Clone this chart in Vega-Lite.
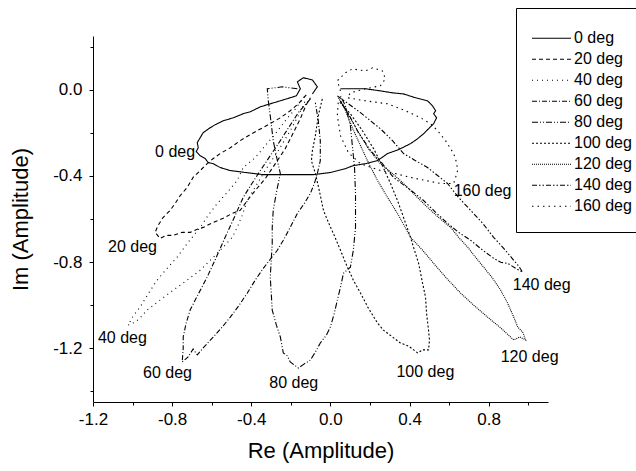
{
  "$schema": "https://vega.github.io/schema/vega-lite/v6.json",
  "autosize": "none",
  "width": 455,
  "height": 366,
  "padding": {"left": 93, "top": 36, "right": 88, "bottom": 69},
  "background": "white",
  "config": {
    "view": {"stroke": null},
    "font": "Liberation Sans",
    "axis": {"grid": false, "domainColor": "black", "tickColor": "black", "labelColor": "black", "titleColor": "black", "labelFont": "Liberation Sans", "titleFont": "Liberation Sans", "titleFontWeight": "normal", "labelFontSize": 17, "titleFontSize": 22, "domainWidth": 1, "tickWidth": 1}
  },
  "datasets": {
    "curves": [
      {"s":"0 deg","i":0,"x":-0.091,"y":-0.019},{"s":"0 deg","i":1,"x":-0.066,"y":0.014},{"s":"0 deg","i":2,"x":-0.091,"y":0.046},{"s":"0 deg","i":3,"x":-0.137,"y":0.056},{"s":"0 deg","i":4,"x":-0.167,"y":0.037},{"s":"0 deg","i":5,"x":-0.152,"y":0.005},{"s":"0 deg","i":6,"x":-0.172,"y":-0.028},{"s":"0 deg","i":7,"x":-0.253,"y":-0.051},{"s":"0 deg","i":8,"x":-0.304,"y":-0.065},{"s":"0 deg","i":9,"x":-0.354,"y":-0.079},{"s":"0 deg","i":10,"x":-0.405,"y":-0.102},{"s":"0 deg","i":11,"x":-0.441,"y":-0.111},{"s":"0 deg","i":12,"x":-0.491,"y":-0.130},{"s":"0 deg","i":13,"x":-0.542,"y":-0.144},{"s":"0 deg","i":14,"x":-0.582,"y":-0.162},{"s":"0 deg","i":15,"x":-0.608,"y":-0.176},{"s":"0 deg","i":16,"x":-0.643,"y":-0.199},{"s":"0 deg","i":17,"x":-0.658,"y":-0.222},{"s":"0 deg","i":18,"x":-0.673,"y":-0.245},{"s":"0 deg","i":19,"x":-0.668,"y":-0.269},{"s":"0 deg","i":20,"x":-0.678,"y":-0.287},{"s":"0 deg","i":21,"x":-0.658,"y":-0.306},{"s":"0 deg","i":22,"x":-0.633,"y":-0.319},{"s":"0 deg","i":23,"x":-0.618,"y":-0.338},{"s":"0 deg","i":24,"x":-0.592,"y":-0.343},{"s":"0 deg","i":25,"x":-0.557,"y":-0.361},{"s":"0 deg","i":26,"x":-0.506,"y":-0.375},{"s":"0 deg","i":27,"x":-0.430,"y":-0.384},{"s":"0 deg","i":28,"x":-0.339,"y":-0.394},{"s":"0 deg","i":29,"x":-0.253,"y":-0.394},{"s":"0 deg","i":30,"x":-0.177,"y":-0.394},{"s":"0 deg","i":31,"x":-0.086,"y":-0.394},{"s":"0 deg","i":32,"x":0.000,"y":-0.384},{"s":"0 deg","i":33,"x":0.076,"y":-0.366},{"s":"0 deg","i":34,"x":0.116,"y":-0.352},{"s":"0 deg","i":35,"x":0.177,"y":-0.343},{"s":"0 deg","i":36,"x":0.238,"y":-0.329},{"s":"0 deg","i":37,"x":0.289,"y":-0.296},{"s":"0 deg","i":38,"x":0.344,"y":-0.278},{"s":"0 deg","i":39,"x":0.405,"y":-0.250},{"s":"0 deg","i":40,"x":0.441,"y":-0.227},{"s":"0 deg","i":41,"x":0.471,"y":-0.204},{"s":"0 deg","i":42,"x":0.496,"y":-0.181},{"s":"0 deg","i":43,"x":0.522,"y":-0.157},{"s":"0 deg","i":44,"x":0.537,"y":-0.130},{"s":"0 deg","i":45,"x":0.522,"y":-0.111},{"s":"0 deg","i":46,"x":0.532,"y":-0.097},{"s":"0 deg","i":47,"x":0.516,"y":-0.074},{"s":"0 deg","i":48,"x":0.491,"y":-0.051},{"s":"0 deg","i":49,"x":0.430,"y":-0.037},{"s":"0 deg","i":50,"x":0.370,"y":-0.019},{"s":"0 deg","i":51,"x":0.314,"y":-0.014},{"s":"0 deg","i":52,"x":0.253,"y":-0.005},{"s":"0 deg","i":53,"x":0.177,"y":0.005},{"s":"0 deg","i":54,"x":0.116,"y":0.005},{"s":"0 deg","i":55,"x":0.051,"y":0.005},
      {"s":"20 deg","i":0,"x":-0.122,"y":-0.023},{"s":"20 deg","i":1,"x":-0.162,"y":-0.065},{"s":"20 deg","i":2,"x":-0.203,"y":-0.097},{"s":"20 deg","i":3,"x":-0.253,"y":-0.130},{"s":"20 deg","i":4,"x":-0.314,"y":-0.162},{"s":"20 deg","i":5,"x":-0.370,"y":-0.190},{"s":"20 deg","i":6,"x":-0.415,"y":-0.213},{"s":"20 deg","i":7,"x":-0.456,"y":-0.236},{"s":"20 deg","i":8,"x":-0.506,"y":-0.269},{"s":"20 deg","i":9,"x":-0.557,"y":-0.296},{"s":"20 deg","i":10,"x":-0.592,"y":-0.319},{"s":"20 deg","i":11,"x":-0.623,"y":-0.343},{"s":"20 deg","i":12,"x":-0.658,"y":-0.375},{"s":"20 deg","i":13,"x":-0.694,"y":-0.407},{"s":"20 deg","i":14,"x":-0.724,"y":-0.454},{"s":"20 deg","i":15,"x":-0.759,"y":-0.491},{"s":"20 deg","i":16,"x":-0.785,"y":-0.528},{"s":"20 deg","i":17,"x":-0.810,"y":-0.560},{"s":"20 deg","i":18,"x":-0.846,"y":-0.593},{"s":"20 deg","i":19,"x":-0.871,"y":-0.630},{"s":"20 deg","i":20,"x":-0.886,"y":-0.662},{"s":"20 deg","i":21,"x":-0.861,"y":-0.690},{"s":"20 deg","i":22,"x":-0.830,"y":-0.676},{"s":"20 deg","i":23,"x":-0.795,"y":-0.676},{"s":"20 deg","i":24,"x":-0.749,"y":-0.662},{"s":"20 deg","i":25,"x":-0.709,"y":-0.662},{"s":"20 deg","i":26,"x":-0.673,"y":-0.648},{"s":"20 deg","i":27,"x":-0.643,"y":-0.639},{"s":"20 deg","i":28,"x":-0.592,"y":-0.616},{"s":"20 deg","i":29,"x":-0.542,"y":-0.597},{"s":"20 deg","i":30,"x":-0.496,"y":-0.574},{"s":"20 deg","i":31,"x":-0.456,"y":-0.560},{"s":"20 deg","i":32,"x":-0.420,"y":-0.514},{"s":"20 deg","i":33,"x":-0.380,"y":-0.468},{"s":"20 deg","i":34,"x":-0.329,"y":-0.412},{"s":"20 deg","i":35,"x":-0.278,"y":-0.343},{"s":"20 deg","i":36,"x":-0.228,"y":-0.273},{"s":"20 deg","i":37,"x":-0.187,"y":-0.199},{"s":"20 deg","i":38,"x":-0.152,"y":-0.134},{"s":"20 deg","i":39,"x":-0.122,"y":-0.069},{"s":"20 deg","i":40,"x":-0.101,"y":-0.037},
      {"s":"40 deg","i":0,"x":-0.132,"y":-0.032},{"s":"40 deg","i":1,"x":-0.177,"y":-0.088},{"s":"40 deg","i":2,"x":-0.228,"y":-0.144},{"s":"40 deg","i":3,"x":-0.278,"y":-0.204},{"s":"40 deg","i":4,"x":-0.329,"y":-0.259},{"s":"40 deg","i":5,"x":-0.380,"y":-0.315},{"s":"40 deg","i":6,"x":-0.441,"y":-0.361},{"s":"40 deg","i":7,"x":-0.471,"y":-0.421},{"s":"40 deg","i":8,"x":-0.522,"y":-0.477},{"s":"40 deg","i":9,"x":-0.572,"y":-0.528},{"s":"40 deg","i":10,"x":-0.618,"y":-0.583},{"s":"40 deg","i":11,"x":-0.658,"y":-0.639},{"s":"40 deg","i":12,"x":-0.719,"y":-0.708},{"s":"40 deg","i":13,"x":-0.775,"y":-0.778},{"s":"40 deg","i":14,"x":-0.825,"y":-0.829},{"s":"40 deg","i":15,"x":-0.876,"y":-0.884},{"s":"40 deg","i":16,"x":-0.922,"y":-0.949},{"s":"40 deg","i":17,"x":-0.962,"y":-1.009},{"s":"40 deg","i":18,"x":-0.997,"y":-1.051},{"s":"40 deg","i":19,"x":-1.023,"y":-1.093},{"s":"40 deg","i":20,"x":-0.987,"y":-1.079},{"s":"40 deg","i":21,"x":-0.962,"y":-1.060},{"s":"40 deg","i":22,"x":-0.927,"y":-1.023},{"s":"40 deg","i":23,"x":-0.861,"y":-0.977},{"s":"40 deg","i":24,"x":-0.795,"y":-0.931},{"s":"40 deg","i":25,"x":-0.724,"y":-0.884},{"s":"40 deg","i":26,"x":-0.658,"y":-0.838},{"s":"40 deg","i":27,"x":-0.597,"y":-0.782},{"s":"40 deg","i":28,"x":-0.542,"y":-0.731},{"s":"40 deg","i":29,"x":-0.496,"y":-0.685},{"s":"40 deg","i":30,"x":-0.471,"y":-0.639},{"s":"40 deg","i":31,"x":-0.446,"y":-0.583},{"s":"40 deg","i":32,"x":-0.420,"y":-0.514},{"s":"40 deg","i":33,"x":-0.375,"y":-0.444},{"s":"40 deg","i":34,"x":-0.324,"y":-0.366},{"s":"40 deg","i":35,"x":-0.263,"y":-0.282},{"s":"40 deg","i":36,"x":-0.203,"y":-0.190},{"s":"40 deg","i":37,"x":-0.157,"y":-0.111},{"s":"40 deg","i":38,"x":-0.127,"y":-0.051},
      {"s":"60 deg","i":0,"x":-0.101,"y":-0.042},{"s":"60 deg","i":1,"x":-0.162,"y":-0.106},{"s":"60 deg","i":2,"x":-0.208,"y":-0.171},{"s":"60 deg","i":3,"x":-0.253,"y":-0.236},{"s":"60 deg","i":4,"x":-0.304,"y":-0.306},{"s":"60 deg","i":5,"x":-0.354,"y":-0.375},{"s":"60 deg","i":6,"x":-0.400,"y":-0.440},{"s":"60 deg","i":7,"x":-0.441,"y":-0.500},{"s":"60 deg","i":8,"x":-0.486,"y":-0.593},{"s":"60 deg","i":9,"x":-0.532,"y":-0.685},{"s":"60 deg","i":10,"x":-0.577,"y":-0.778},{"s":"60 deg","i":11,"x":-0.623,"y":-0.870},{"s":"60 deg","i":12,"x":-0.668,"y":-0.949},{"s":"60 deg","i":13,"x":-0.709,"y":-1.023},{"s":"60 deg","i":14,"x":-0.729,"y":-1.083},{"s":"60 deg","i":15,"x":-0.744,"y":-1.148},{"s":"60 deg","i":16,"x":-0.744,"y":-1.199},{"s":"60 deg","i":17,"x":-0.749,"y":-1.264},{"s":"60 deg","i":18,"x":-0.719,"y":-1.241},{"s":"60 deg","i":19,"x":-0.694,"y":-1.204},{"s":"60 deg","i":20,"x":-0.673,"y":-1.231},{"s":"60 deg","i":21,"x":-0.643,"y":-1.199},{"s":"60 deg","i":22,"x":-0.592,"y":-1.148},{"s":"60 deg","i":23,"x":-0.547,"y":-1.102},{"s":"60 deg","i":24,"x":-0.506,"y":-1.056},{"s":"60 deg","i":25,"x":-0.461,"y":-1.000},{"s":"60 deg","i":26,"x":-0.420,"y":-0.944},{"s":"60 deg","i":27,"x":-0.380,"y":-0.884},{"s":"60 deg","i":28,"x":-0.339,"y":-0.829},{"s":"60 deg","i":29,"x":-0.304,"y":-0.787},{"s":"60 deg","i":30,"x":-0.268,"y":-0.745},{"s":"60 deg","i":31,"x":-0.238,"y":-0.699},{"s":"60 deg","i":32,"x":-0.203,"y":-0.639},{"s":"60 deg","i":33,"x":-0.167,"y":-0.574},{"s":"60 deg","i":34,"x":-0.132,"y":-0.528},{"s":"60 deg","i":35,"x":-0.101,"y":-0.481},{"s":"60 deg","i":36,"x":-0.081,"y":-0.435},{"s":"60 deg","i":37,"x":-0.066,"y":-0.389},{"s":"60 deg","i":38,"x":-0.051,"y":-0.329},{"s":"60 deg","i":39,"x":-0.051,"y":-0.236},{"s":"60 deg","i":40,"x":-0.061,"y":-0.144},{"s":"60 deg","i":41,"x":-0.076,"y":-0.060},
      {"s":"80 deg","i":0,"x":-0.167,"y":0.005},{"s":"80 deg","i":1,"x":-0.243,"y":0.014},{"s":"80 deg","i":2,"x":-0.319,"y":0.005},{"s":"80 deg","i":3,"x":-0.314,"y":-0.051},{"s":"80 deg","i":4,"x":-0.304,"y":-0.120},{"s":"80 deg","i":5,"x":-0.289,"y":-0.236},{"s":"80 deg","i":6,"x":-0.268,"y":-0.329},{"s":"80 deg","i":7,"x":-0.253,"y":-0.389},{"s":"80 deg","i":8,"x":-0.273,"y":-0.477},{"s":"80 deg","i":9,"x":-0.289,"y":-0.560},{"s":"80 deg","i":10,"x":-0.294,"y":-0.639},{"s":"80 deg","i":11,"x":-0.294,"y":-0.713},{"s":"80 deg","i":12,"x":-0.299,"y":-0.792},{"s":"80 deg","i":13,"x":-0.304,"y":-0.870},{"s":"80 deg","i":14,"x":-0.299,"y":-0.944},{"s":"80 deg","i":15,"x":-0.294,"y":-1.023},{"s":"80 deg","i":16,"x":-0.273,"y":-1.093},{"s":"80 deg","i":17,"x":-0.253,"y":-1.148},{"s":"80 deg","i":18,"x":-0.238,"y":-1.222},{"s":"80 deg","i":19,"x":-0.218,"y":-1.236},{"s":"80 deg","i":20,"x":-0.203,"y":-1.264},{"s":"80 deg","i":21,"x":-0.162,"y":-1.292},{"s":"80 deg","i":22,"x":-0.132,"y":-1.273},{"s":"80 deg","i":23,"x":-0.101,"y":-1.255},{"s":"80 deg","i":24,"x":-0.076,"y":-1.218},{"s":"80 deg","i":25,"x":-0.051,"y":-1.176},{"s":"80 deg","i":26,"x":-0.020,"y":-1.139},{"s":"80 deg","i":27,"x":0.000,"y":-1.102},{"s":"80 deg","i":28,"x":0.020,"y":-1.037},{"s":"80 deg","i":29,"x":0.035,"y":-0.977},{"s":"80 deg","i":30,"x":0.051,"y":-0.917},{"s":"80 deg","i":31,"x":0.066,"y":-0.852},{"s":"80 deg","i":32,"x":0.101,"y":-0.824},{"s":"80 deg","i":33,"x":0.116,"y":-0.745},{"s":"80 deg","i":34,"x":0.127,"y":-0.639},{"s":"80 deg","i":35,"x":0.127,"y":-0.560},{"s":"80 deg","i":36,"x":0.127,"y":-0.481},{"s":"80 deg","i":37,"x":0.122,"y":-0.361},{"s":"80 deg","i":38,"x":0.111,"y":-0.259},{"s":"80 deg","i":39,"x":0.101,"y":-0.167},{"s":"80 deg","i":40,"x":0.076,"y":-0.074},{"s":"80 deg","i":41,"x":0.051,"y":-0.028},
      {"s":"100 deg","i":0,"x":-0.041,"y":-0.042},{"s":"100 deg","i":1,"x":-0.061,"y":-0.120},{"s":"100 deg","i":2,"x":-0.076,"y":-0.213},{"s":"100 deg","i":3,"x":-0.091,"y":-0.282},{"s":"100 deg","i":4,"x":-0.096,"y":-0.329},{"s":"100 deg","i":5,"x":-0.076,"y":-0.389},{"s":"100 deg","i":6,"x":-0.056,"y":-0.468},{"s":"100 deg","i":7,"x":-0.035,"y":-0.560},{"s":"100 deg","i":8,"x":-0.010,"y":-0.616},{"s":"100 deg","i":9,"x":0.015,"y":-0.667},{"s":"100 deg","i":10,"x":0.051,"y":-0.745},{"s":"100 deg","i":11,"x":0.086,"y":-0.824},{"s":"100 deg","i":12,"x":0.116,"y":-0.884},{"s":"100 deg","i":13,"x":0.152,"y":-0.944},{"s":"100 deg","i":14,"x":0.192,"y":-1.014},{"s":"100 deg","i":15,"x":0.238,"y":-1.083},{"s":"100 deg","i":16,"x":0.268,"y":-1.116},{"s":"100 deg","i":17,"x":0.314,"y":-1.148},{"s":"100 deg","i":18,"x":0.354,"y":-1.176},{"s":"100 deg","i":19,"x":0.395,"y":-1.190},{"s":"100 deg","i":20,"x":0.441,"y":-1.222},{"s":"100 deg","i":21,"x":0.466,"y":-1.208},{"s":"100 deg","i":22,"x":0.496,"y":-1.208},{"s":"100 deg","i":23,"x":0.501,"y":-1.162},{"s":"100 deg","i":24,"x":0.496,"y":-1.116},{"s":"100 deg","i":25,"x":0.486,"y":-1.037},{"s":"100 deg","i":26,"x":0.481,"y":-0.963},{"s":"100 deg","i":27,"x":0.466,"y":-0.898},{"s":"100 deg","i":28,"x":0.456,"y":-0.852},{"s":"100 deg","i":29,"x":0.446,"y":-0.806},{"s":"100 deg","i":30,"x":0.425,"y":-0.745},{"s":"100 deg","i":31,"x":0.405,"y":-0.685},{"s":"100 deg","i":32,"x":0.370,"y":-0.593},{"s":"100 deg","i":33,"x":0.339,"y":-0.514},{"s":"100 deg","i":34,"x":0.304,"y":-0.435},{"s":"100 deg","i":35,"x":0.263,"y":-0.352},{"s":"100 deg","i":36,"x":0.218,"y":-0.273},{"s":"100 deg","i":37,"x":0.162,"y":-0.190},{"s":"100 deg","i":38,"x":0.101,"y":-0.111},{"s":"100 deg","i":39,"x":0.041,"y":-0.051},
      {"s":"120 deg","i":0,"x":0.041,"y":-0.037},{"s":"120 deg","i":1,"x":0.076,"y":-0.097},{"s":"120 deg","i":2,"x":0.111,"y":-0.176},{"s":"120 deg","i":3,"x":0.152,"y":-0.259},{"s":"120 deg","i":4,"x":0.192,"y":-0.338},{"s":"120 deg","i":5,"x":0.238,"y":-0.421},{"s":"120 deg","i":6,"x":0.289,"y":-0.500},{"s":"120 deg","i":7,"x":0.339,"y":-0.574},{"s":"120 deg","i":8,"x":0.405,"y":-0.685},{"s":"120 deg","i":9,"x":0.466,"y":-0.745},{"s":"120 deg","i":10,"x":0.522,"y":-0.806},{"s":"120 deg","i":11,"x":0.587,"y":-0.875},{"s":"120 deg","i":12,"x":0.658,"y":-0.944},{"s":"120 deg","i":13,"x":0.724,"y":-1.000},{"s":"120 deg","i":14,"x":0.795,"y":-1.056},{"s":"120 deg","i":15,"x":0.861,"y":-1.106},{"s":"120 deg","i":16,"x":0.927,"y":-1.162},{"s":"120 deg","i":17,"x":0.957,"y":-1.148},{"s":"120 deg","i":18,"x":0.987,"y":-1.162},{"s":"120 deg","i":19,"x":0.972,"y":-1.125},{"s":"120 deg","i":20,"x":0.947,"y":-1.102},{"s":"120 deg","i":21,"x":0.927,"y":-1.056},{"s":"120 deg","i":22,"x":0.896,"y":-0.991},{"s":"120 deg","i":23,"x":0.861,"y":-0.931},{"s":"120 deg","i":24,"x":0.820,"y":-0.875},{"s":"120 deg","i":25,"x":0.775,"y":-0.824},{"s":"120 deg","i":26,"x":0.734,"y":-0.778},{"s":"120 deg","i":27,"x":0.694,"y":-0.731},{"s":"120 deg","i":28,"x":0.648,"y":-0.685},{"s":"120 deg","i":29,"x":0.608,"y":-0.639},{"s":"120 deg","i":30,"x":0.547,"y":-0.593},{"s":"120 deg","i":31,"x":0.491,"y":-0.546},{"s":"120 deg","i":32,"x":0.430,"y":-0.491},{"s":"120 deg","i":33,"x":0.370,"y":-0.435},{"s":"120 deg","i":34,"x":0.314,"y":-0.389},{"s":"120 deg","i":35,"x":0.253,"y":-0.343},{"s":"120 deg","i":36,"x":0.192,"y":-0.273},{"s":"120 deg","i":37,"x":0.137,"y":-0.190},{"s":"120 deg","i":38,"x":0.086,"y":-0.106},{"s":"120 deg","i":39,"x":0.051,"y":-0.051},
      {"s":"140 deg","i":0,"x":0.035,"y":-0.028},{"s":"140 deg","i":1,"x":0.091,"y":-0.065},{"s":"140 deg","i":2,"x":0.152,"y":-0.106},{"s":"140 deg","i":3,"x":0.203,"y":-0.144},{"s":"140 deg","i":4,"x":0.253,"y":-0.181},{"s":"140 deg","i":5,"x":0.314,"y":-0.236},{"s":"140 deg","i":6,"x":0.370,"y":-0.296},{"s":"140 deg","i":7,"x":0.430,"y":-0.329},{"s":"140 deg","i":8,"x":0.491,"y":-0.361},{"s":"140 deg","i":9,"x":0.542,"y":-0.398},{"s":"140 deg","i":10,"x":0.592,"y":-0.435},{"s":"140 deg","i":11,"x":0.648,"y":-0.500},{"s":"140 deg","i":12,"x":0.709,"y":-0.560},{"s":"140 deg","i":13,"x":0.770,"y":-0.620},{"s":"140 deg","i":14,"x":0.825,"y":-0.685},{"s":"140 deg","i":15,"x":0.876,"y":-0.736},{"s":"140 deg","i":16,"x":0.927,"y":-0.792},{"s":"140 deg","i":17,"x":0.952,"y":-0.819},{"s":"140 deg","i":18,"x":0.972,"y":-0.847},{"s":"140 deg","i":19,"x":0.937,"y":-0.829},{"s":"140 deg","i":20,"x":0.896,"y":-0.806},{"s":"140 deg","i":21,"x":0.861,"y":-0.801},{"s":"140 deg","i":22,"x":0.825,"y":-0.782},{"s":"140 deg","i":23,"x":0.770,"y":-0.745},{"s":"140 deg","i":24,"x":0.709,"y":-0.699},{"s":"140 deg","i":25,"x":0.648,"y":-0.662},{"s":"140 deg","i":26,"x":0.592,"y":-0.620},{"s":"140 deg","i":27,"x":0.532,"y":-0.569},{"s":"140 deg","i":28,"x":0.471,"y":-0.514},{"s":"140 deg","i":29,"x":0.395,"y":-0.458},{"s":"140 deg","i":30,"x":0.319,"y":-0.407},{"s":"140 deg","i":31,"x":0.263,"y":-0.343},{"s":"140 deg","i":32,"x":0.203,"y":-0.282},{"s":"140 deg","i":33,"x":0.142,"y":-0.199},{"s":"140 deg","i":34,"x":0.091,"y":-0.111},{"s":"140 deg","i":35,"x":0.051,"y":-0.051},
      {"s":"160 deg","i":0,"x":0.051,"y":-0.005},{"s":"160 deg","i":1,"x":0.035,"y":0.042},{"s":"160 deg","i":2,"x":0.076,"y":0.079},{"s":"160 deg","i":3,"x":0.111,"y":0.097},{"s":"160 deg","i":4,"x":0.177,"y":0.088},{"s":"160 deg","i":5,"x":0.213,"y":0.102},{"s":"160 deg","i":6,"x":0.263,"y":0.088},{"s":"160 deg","i":7,"x":0.278,"y":0.051},{"s":"160 deg","i":8,"x":0.253,"y":0.019},{"s":"160 deg","i":9,"x":0.177,"y":0.005},{"s":"160 deg","i":10,"x":0.101,"y":-0.014},{"s":"160 deg","i":11,"x":0.086,"y":-0.037},{"s":"160 deg","i":12,"x":0.177,"y":-0.051},{"s":"160 deg","i":13,"x":0.289,"y":-0.065},{"s":"160 deg","i":14,"x":0.380,"y":-0.097},{"s":"160 deg","i":15,"x":0.456,"y":-0.130},{"s":"160 deg","i":16,"x":0.506,"y":-0.157},{"s":"160 deg","i":17,"x":0.542,"y":-0.190},{"s":"160 deg","i":18,"x":0.582,"y":-0.236},{"s":"160 deg","i":19,"x":0.623,"y":-0.296},{"s":"160 deg","i":20,"x":0.638,"y":-0.338},{"s":"160 deg","i":21,"x":0.643,"y":-0.375},{"s":"160 deg","i":22,"x":0.633,"y":-0.407},{"s":"160 deg","i":23,"x":0.623,"y":-0.435},{"s":"160 deg","i":24,"x":0.592,"y":-0.435},{"s":"160 deg","i":25,"x":0.557,"y":-0.435},{"s":"160 deg","i":26,"x":0.481,"y":-0.421},{"s":"160 deg","i":27,"x":0.405,"y":-0.407},{"s":"160 deg","i":28,"x":0.329,"y":-0.389},{"s":"160 deg","i":29,"x":0.253,"y":-0.375},{"s":"160 deg","i":30,"x":0.152,"y":-0.343},{"s":"160 deg","i":31,"x":0.091,"y":-0.292},{"s":"160 deg","i":32,"x":0.051,"y":-0.213},{"s":"160 deg","i":33,"x":0.035,"y":-0.120},{"s":"160 deg","i":34,"x":0.041,"y":-0.042}
    ],
    "labels": [
      {"t":"0 deg","x":-0.886,"y":-0.287},
      {"t":"20 deg","x":-1.124,"y":-0.731},
      {"t":"40 deg","x":-1.175,"y":-1.153},
      {"t":"60 deg","x":-0.947,"y":-1.315},
      {"t":"80 deg","x":-0.309,"y":-1.361},
      {"t":"100 deg","x":0.334,"y":-1.310},
      {"t":"120 deg","x":0.861,"y":-1.241},
      {"t":"140 deg","x":0.922,"y":-0.907},
      {"t":"160 deg","x":0.623,"y":-0.468}
    ]
  },
  "layer": [
    {
      "data": {"name": "curves"},
      "mark": {"type": "line", "color": "black", "strokeWidth": 1.1, "clip": true},
      "encoding": {
        "x": {"field": "x", "type": "quantitative", "scale": {"domain": [-1.2, 1.1], "nice": false, "zero": false},
          "axis": {"orient": "bottom", "values": [-1.2, -0.8, -0.4, 0, 0.4, 0.8], "format": ".1f", "labelExpr": "replace(datum.label, '\u2212', '-')", "tickSize": 4, "labelPadding": 5, "labelFlush": false, "labelOverlap": false, "title": "Re (Amplitude)", "titlePadding": 13}},
        "y": {"field": "y", "type": "quantitative", "scale": {"domain": [-1.45, 0.25], "nice": false, "zero": false},
          "axis": {"orient": "left", "values": [-1.2, -0.8, -0.4, 0], "format": ".1f", "labelExpr": "replace(datum.label, '\u2212', '-')", "tickSize": 4, "labelPadding": 7, "labelFlush": false, "labelOverlap": false, "title": "Im (Amplitude)", "titlePadding": 20}},
        "strokeDash": {"field": "s", "type": "nominal",
          "scale": {"domain": ["0 deg", "20 deg", "40 deg", "60 deg", "80 deg", "100 deg", "120 deg", "140 deg", "160 deg"],
            "range": [[1, 0], [4, 3], [1, 4], [5, 2, 1, 2], [6, 2, 1, 2, 1, 2], [2, 2], [1, 1], [5, 2, 1.5, 2, 1.5, 2], [1.5, 4]]},
          "legend": {"orient": "none", "legendX": 423, "legendY": -28, "title": "\u00a0", "titleFontSize": 5, "titlePadding": 0, "titleLineHeight": 5, "strokeColor": "black", "fillColor": "white", "padding": 15, "symbolType": "stroke", "symbolSize": 1521, "symbolStrokeWidth": 1.1, "symbolStrokeColor": "black", "symbolOpacity": 1, "labelOffset": 2, "labelFontSize": 16, "labelFont": "Liberation Sans", "labelColor": "black", "clipHeight": 20.5, "rowPadding": 0}},
        "order": {"field": "i", "type": "quantitative"}
      }
    },
    {
      "data": {"name": "labels"},
      "mark": {"type": "text", "align": "left", "baseline": "middle", "fontSize": 16, "font": "Liberation Sans", "color": "black"},
      "encoding": {
        "x": {"field": "x", "type": "quantitative", "axis": {"orient": "bottom", "values": [-1.0, -0.6, -0.2, 0.2, 0.6, 1.0], "labels": false, "domain": false, "tickSize": 3, "title": null}},
        "y": {"field": "y", "type": "quantitative", "axis": {"orient": "left", "values": [-1.4, -1.0, -0.6, -0.2, 0.2], "labels": false, "domain": false, "tickSize": 3, "title": null}},
        "text": {"field": "t"}
      }
    }
  ],
  "resolve": {"axis": {"x": "independent", "y": "independent"}}
}
